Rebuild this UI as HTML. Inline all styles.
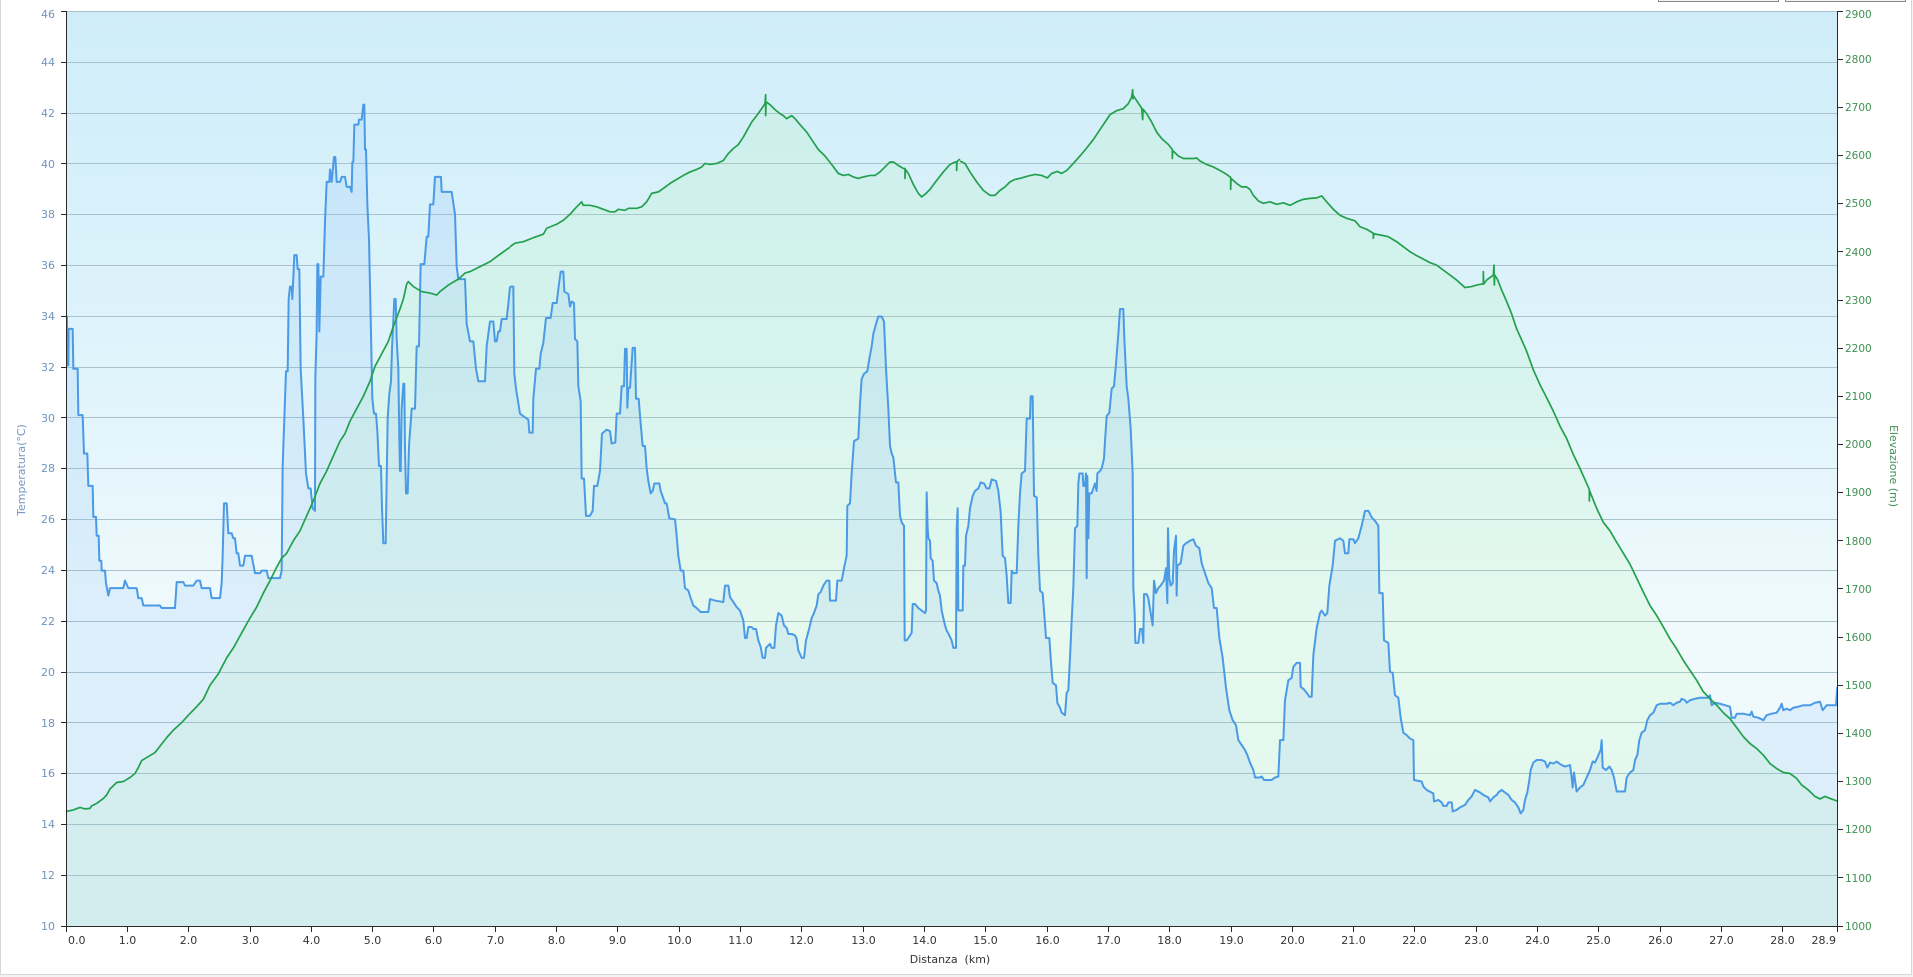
<!DOCTYPE html>
<html><head><meta charset="utf-8"><style>
html,body{margin:0;padding:0;background:#f3f3f3;}
svg{display:block;font-family:"DejaVu Sans","Liberation Sans",sans-serif;}
</style></head><body>
<svg width="1913" height="977" viewBox="0 0 1913 977" xmlns="http://www.w3.org/2000/svg">
<defs>
<linearGradient id="bg" x1="0" y1="0" x2="0" y2="1">
<stop offset="0" stop-color="#cfedf9"/>
<stop offset="0.4" stop-color="#e0f4fb"/>
<stop offset="0.68" stop-color="#f0fafd"/>
<stop offset="1" stop-color="#eef9fc"/>
</linearGradient>
<clipPath id="pc"><rect x="66.5" y="11" width="1771" height="915"/></clipPath>
</defs>
<rect x="0.5" y="-2" width="1911" height="976.5" fill="#ffffff" stroke="#d6d6d6"/>
<rect x="1658.5" y="-12" width="120" height="13.5" fill="#f4f4f4" stroke="#8a8a8a"/>
<rect x="1785.5" y="-12" width="120" height="13.5" fill="#f4f4f4" stroke="#8a8a8a"/>
<rect x="66.5" y="11" width="1771" height="915" fill="url(#bg)"/>
<g stroke="#aac2cc" stroke-width="1" shape-rendering="crispEdges">
<line x1="66" x2="1838" y1="11.5" y2="11.5"/>
<line x1="66" x2="1838" y1="62.5" y2="62.5"/>
<line x1="66" x2="1838" y1="113.5" y2="113.5"/>
<line x1="66" x2="1838" y1="163.5" y2="163.5"/>
<line x1="66" x2="1838" y1="214.5" y2="214.5"/>
<line x1="66" x2="1838" y1="265.5" y2="265.5"/>
<line x1="66" x2="1838" y1="316.5" y2="316.5"/>
<line x1="66" x2="1838" y1="367.5" y2="367.5"/>
<line x1="66" x2="1838" y1="417.5" y2="417.5"/>
<line x1="66" x2="1838" y1="468.5" y2="468.5"/>
<line x1="66" x2="1838" y1="519.5" y2="519.5"/>
<line x1="66" x2="1838" y1="570.5" y2="570.5"/>
<line x1="66" x2="1838" y1="621.5" y2="621.5"/>
<line x1="66" x2="1838" y1="672.5" y2="672.5"/>
<line x1="66" x2="1838" y1="722.5" y2="722.5"/>
<line x1="66" x2="1838" y1="773.5" y2="773.5"/>
<line x1="66" x2="1838" y1="824.5" y2="824.5"/>
<line x1="66" x2="1838" y1="875.5" y2="875.5"/>
</g>
<g clip-path="url(#pc)">
<!-- green fills -->
<g transform="translate(60 59.8) scale(0.333333 0.4984)" fill="rgba(158,249,142,0.12)" stroke="none">
<polygon points="20,1738 20,1508 40,1505 60,1500 75,1503 90,1502 95,1497 110,1492 130,1482 140,1475 150,1463 170,1450 190,1448 210,1440 225,1432 235,1420 245,1406 265,1398 285,1390 300,1377 320,1360 340,1345 365,1330 385,1315 410,1298 430,1283 450,1255 475,1232 500,1200 520,1180 545,1150 570,1120 590,1098 610,1070 630,1045 650,1018 665,1000 680,990 700,965 720,945 740,915 760,885 780,850 800,825 820,795 840,765 855,750 870,725 890,700 910,675 930,645 945,615 965,590 985,565 1000,535 1020,500 1030,480 1040,450 1045,445 1060,455 1085,465 1110,468 1130,472 1140,465 1165,452 1195,440 1215,428 1230,425 1260,415 1290,405 1310,395 1335,383 1350,376 1350,1738"/>
</g>
<g transform="translate(510 59.8) scale(0.333333 0.4984)" fill="rgba(158,249,142,0.12)" stroke="none">
<polygon points="0,1738 0,375 15,368 40,365 70,357 100,350 110,338 140,330 160,322 180,310 200,295 215,285 220,292 240,292 260,295 280,300 300,305 315,305 325,300 345,302 355,298 380,298 395,295 410,285 425,268 445,265 460,258 480,248 500,240 520,232 540,225 560,220 575,215 585,208 600,210 620,208 640,202 655,188 670,178 685,170 700,155 715,137 725,125 740,112 755,98 765,88 770,85 780,90 795,100 810,108 820,112 830,118 845,112 855,118 870,130 890,145 910,165 925,180 945,193 965,210 985,228 1000,232 1015,230 1030,235 1045,238 1060,235 1080,232 1095,232 1110,225 1125,215 1140,205 1150,205 1165,212 1180,218 1195,228 1210,250 1225,268 1235,275 1245,270 1260,260 1280,242 1300,225 1320,210 1335,205 1348,200 1350,201 1350,1738"/>
</g>
<g transform="translate(960 59.8) scale(0.333333 0.4984)" fill="rgba(158,249,142,0.12)" stroke="none">
<polygon points="0,1738 0,203 15,208 30,225 50,245 70,262 90,272 105,272 120,262 135,255 150,245 165,240 185,237 205,233 225,230 245,232 262,237 275,228 292,224 305,228 320,222 340,208 360,193 380,177 400,160 420,140 435,125 450,110 470,102 490,98 505,88 515,75 520,72 530,82 545,97 560,108 575,125 590,145 605,158 625,170 655,193 670,198 700,198 710,197 720,203 740,210 760,215 780,222 800,230 830,248 845,255 860,255 870,260 880,272 895,283 910,288 930,285 950,290 970,287 990,292 1010,285 1030,280 1050,278 1070,277 1085,273 1100,285 1120,300 1140,312 1160,318 1185,323 1200,335 1220,340 1240,348 1265,352 1285,355 1310,365 1330,375 1350,385 1350,1738"/>
</g>
<g transform="translate(1410 59.8) scale(0.333333 0.4984)" fill="rgba(158,249,142,0.12)" stroke="none">
<polygon points="0,1738 0,385 20,393 40,400 60,407 80,412 100,422 120,432 140,442 165,457 185,455 200,452 215,450 230,442 250,432 262,440 275,462 290,485 305,510 320,540 335,562 350,585 370,622 390,652 410,678 430,705 450,735 470,760 490,792 510,820 530,850 545,875 560,900 580,928 600,945 620,968 640,990 660,1012 680,1040 700,1068 720,1095 740,1115 760,1138 780,1162 800,1182 820,1205 840,1225 860,1245 880,1268 900,1282 920,1295 940,1310 960,1322 980,1340 1000,1358 1020,1372 1040,1382 1060,1395 1080,1412 1100,1422 1120,1430 1140,1432 1160,1442 1175,1455 1195,1465 1215,1478 1230,1483 1245,1478 1260,1482 1285,1488 1285,1738"/>
</g>
<!-- blue fills -->
<g transform="translate(60 59.8) scale(0.333333 0.4984)" fill="rgba(133,184,242,0.17)" stroke="none">
<polygon points="20,1738 20,515 21,515 22,613 25,613 26,540 38,540 40,620 53,620 55,713 68,713 72,790 82,790 85,855 98,855 100,917 108,917 110,955 116,955 118,1005 124,1005 125,1025 135,1025 138,1050 145,1075 150,1060 190,1060 195,1045 205,1060 230,1060 235,1080 245,1080 250,1095 300,1095 305,1100 345,1100 350,1048 370,1048 375,1055 400,1055 410,1045 420,1045 425,1060 450,1060 455,1080 480,1080 485,1050 488,995 492,890 500,890 505,950 515,950 520,960 525,960 530,990 535,990 540,1015 550,1015 555,995 575,995 585,1030 600,1030 605,1025 620,1025 625,1040 660,1040 665,1025 668,815 678,625 683,625 686,480 690,455 695,455 697,480 703,392 710,392 713,420 718,420 722,620 730,720 738,830 745,860 752,860 758,900 765,905 766,640 770,545 772,410 775,410 778,545 782,435 790,435 795,325 800,245 808,245 810,220 815,245 822,195 826,195 830,245 840,245 845,235 855,235 860,255 870,255 875,265 877,205 880,205 883,130 895,130 897,120 905,120 910,90 913,90 915,180 918,180 922,290 927,360 933,550 937,680 942,710 948,710 952,745 957,815 963,815 966,900 970,970 977,970 980,845 983,720 988,670 993,645 996,580 1003,480 1007,480 1010,560 1015,620 1018,760 1020,825 1022,825 1025,700 1030,650 1033,650 1035,780 1038,870 1043,870 1047,775 1055,700 1065,700 1070,575 1077,575 1082,410 1093,410 1100,355 1105,355 1110,290 1120,290 1125,235 1143,235 1145,265 1175,265 1185,310 1190,415 1195,440 1215,440 1220,530 1230,565 1240,565 1248,620 1255,645 1275,645 1280,575 1290,525 1300,525 1305,565 1310,565 1315,545 1320,545 1325,520 1340,520 1345,490 1350,455 1350,1738"/>
</g>
<g transform="translate(510 59.8) scale(0.333333 0.4984)" fill="rgba(133,184,242,0.17)" stroke="none">
<polygon points="0,1738 0,455 10,455 13,630 18,660 30,710 40,715 55,722 58,748 68,748 70,680 78,620 88,620 92,590 100,568 108,518 122,518 128,488 140,488 145,460 152,425 160,425 163,465 175,470 180,495 185,485 192,488 195,560 202,565 205,655 212,685 215,840 222,840 228,915 240,915 248,905 252,855 262,855 270,825 276,750 285,745 290,742 300,745 305,770 316,768 320,710 330,710 335,655 342,655 345,580 350,580 352,698 355,658 360,658 368,578 375,578 378,680 386,680 392,730 398,775 405,775 410,820 415,845 422,870 428,865 433,850 448,850 452,865 460,880 465,890 470,890 478,920 495,922 500,955 505,995 512,1025 520,1025 525,1060 535,1065 542,1080 550,1095 560,1100 572,1108 595,1108 600,1082 615,1085 640,1088 645,1055 655,1055 660,1078 670,1088 680,1098 690,1105 700,1125 705,1160 710,1160 715,1138 725,1138 730,1142 738,1142 745,1165 752,1178 758,1200 765,1200 768,1180 775,1175 780,1172 785,1180 793,1180 798,1135 805,1110 815,1115 822,1135 830,1140 835,1152 845,1152 855,1155 860,1162 865,1185 875,1200 882,1200 888,1165 892,1155 898,1140 905,1120 912,1110 920,1095 925,1072 932,1068 940,1055 950,1045 958,1045 960,1085 978,1085 982,1045 995,1045 1002,1020 1010,995 1012,895 1020,890 1025,830 1032,765 1045,760 1050,690 1055,640 1062,630 1072,625 1078,600 1085,575 1090,550 1098,530 1105,515 1115,515 1122,525 1128,620 1135,700 1140,775 1145,790 1150,798 1158,848 1165,848 1170,915 1175,928 1182,935 1184,1165 1190,1165 1200,1155 1205,1150 1208,1092 1215,1092 1225,1100 1235,1105 1245,1110 1248,1105 1250,868 1253,940 1255,960 1260,965 1262,1000 1268,1005 1272,1045 1280,1050 1285,1065 1290,1075 1295,1105 1300,1120 1305,1135 1310,1145 1318,1155 1325,1165 1330,1180 1338,1180 1340,940 1343,900 1345,1105 1350,1105 1350,1738"/>
</g>
<g transform="translate(960 59.8) scale(0.333333 0.4984)" fill="rgba(133,184,242,0.17)" stroke="none">
<polygon points="0,1738 0,1105 8,1105 10,1015 15,1015 18,955 25,935 30,900 38,875 45,865 55,860 62,848 72,850 80,860 88,860 95,842 108,845 115,865 122,908 128,995 135,1000 140,1035 145,1090 152,1090 155,1025 160,1030 170,1030 175,935 180,870 185,830 195,825 200,720 210,720 212,675 218,675 222,875 230,878 235,995 240,1065 248,1070 252,1105 258,1160 268,1160 272,1200 278,1250 288,1255 292,1290 300,1300 305,1310 315,1315 320,1270 325,1265 330,1200 335,1125 340,1060 345,940 352,935 355,850 358,830 368,830 370,855 375,855 378,830 380,1040 382,835 385,960 388,870 395,870 400,860 405,850 410,865 412,830 420,825 425,820 432,800 435,765 440,715 448,708 455,660 462,655 468,610 475,550 480,500 490,500 493,560 500,655 505,680 512,740 518,830 520,1060 524,1110 526,1170 535,1170 540,1142 546,1142 550,1170 552,1072 560,1072 565,1080 572,1110 578,1135 582,1045 588,1070 595,1060 602,1055 612,1045 618,1020 622,1090 624,940 628,1040 632,1055 638,1050 642,985 648,955 650,1075 652,1015 662,1010 670,975 678,970 690,965 700,962 708,975 718,980 725,1010 735,1030 745,1050 755,1060 762,1100 770,1100 778,1160 788,1200 798,1260 808,1305 818,1325 828,1335 835,1365 845,1375 855,1385 862,1395 870,1410 880,1425 885,1440 900,1440 905,1438 912,1445 920,1445 935,1445 945,1440 955,1438 960,1365 970,1365 975,1285 985,1245 995,1240 1000,1218 1010,1210 1020,1210 1022,1258 1030,1262 1040,1270 1048,1278 1055,1278 1060,1195 1070,1140 1080,1110 1085,1105 1095,1115 1102,1110 1108,1055 1118,1015 1125,965 1140,960 1150,965 1155,990 1165,990 1168,962 1180,962 1185,970 1195,960 1205,935 1215,905 1225,905 1235,918 1245,925 1255,935 1258,1070 1268,1070 1272,1165 1285,1170 1290,1228 1298,1230 1305,1275 1315,1280 1322,1320 1330,1350 1340,1355 1350,1362 1350,1738"/>
</g>
<g transform="translate(1410 59.8) scale(0.333333 0.4984)" fill="rgba(133,184,242,0.17)" stroke="none">
<polygon points="0,1738 0,1365 10,1365 12,1445 35,1448 40,1458 50,1465 70,1472 72,1488 85,1485 95,1490 100,1497 110,1497 115,1490 125,1490 128,1508 140,1505 150,1500 165,1495 175,1485 185,1478 195,1465 210,1470 220,1475 235,1480 240,1488 250,1480 260,1475 265,1470 275,1465 285,1470 295,1475 305,1485 315,1490 325,1500 332,1512 340,1505 345,1485 352,1470 358,1445 362,1425 370,1410 380,1405 395,1405 405,1408 412,1420 420,1410 430,1412 440,1408 448,1412 455,1415 465,1418 480,1415 485,1440 488,1460 492,1430 500,1468 510,1460 520,1455 530,1440 540,1425 548,1408 555,1410 562,1400 572,1385 575,1365 578,1420 588,1425 598,1418 605,1425 612,1440 620,1468 645,1468 650,1440 660,1430 670,1425 675,1405 682,1395 688,1365 695,1350 705,1345 712,1325 720,1315 730,1310 740,1295 750,1292 770,1292 780,1290 790,1295 800,1290 810,1288 815,1282 825,1285 830,1290 840,1285 855,1282 870,1280 895,1280 900,1275 905,1295 915,1290 930,1292 945,1295 960,1298 965,1320 975,1320 980,1312 1000,1312 1020,1315 1025,1308 1030,1318 1045,1320 1060,1325 1070,1315 1085,1312 1100,1310 1110,1300 1115,1292 1120,1305 1130,1302 1140,1305 1150,1300 1165,1298 1180,1295 1200,1295 1215,1290 1230,1288 1238,1305 1250,1295 1265,1295 1278,1295 1282,1258 1285,1258 1285,1738"/>
</g>
<!-- blue lines -->
<g fill="none" stroke="#4a9ae6" stroke-width="2" stroke-linejoin="round">
<g transform="translate(60 59.8) scale(0.333333 0.4984)">
<polyline vector-effect="non-scaling-stroke" points="20,515 21,515 22,613 25,613 26,540 38,540 40,620 53,620 55,713 68,713 72,790 82,790 85,855 98,855 100,917 108,917 110,955 116,955 118,1005 124,1005 125,1025 135,1025 138,1050 145,1075 150,1060 190,1060 195,1045 205,1060 230,1060 235,1080 245,1080 250,1095 300,1095 305,1100 345,1100 350,1048 370,1048 375,1055 400,1055 410,1045 420,1045 425,1060 450,1060 455,1080 480,1080 485,1050 488,995 492,890 500,890 505,950 515,950 520,960 525,960 530,990 535,990 540,1015 550,1015 555,995 575,995 585,1030 600,1030 605,1025 620,1025 625,1040 660,1040 665,1025 668,815 678,625 683,625 686,480 690,455 695,455 697,480 703,392 710,392 713,420 718,420 722,620 730,720 738,830 745,860 752,860 758,900 765,905 766,640 770,545 772,410 775,410 778,545 782,435 790,435 795,325 800,245 808,245 810,220 815,245 822,195 826,195 830,245 840,245 845,235 855,235 860,255 870,255 875,265 877,205 880,205 883,130 895,130 897,120 905,120 910,90 913,90 915,180 918,180 922,290 927,360 933,550 937,680 942,710 948,710 952,745 957,815 963,815 966,900 970,970 977,970 980,845 983,720 988,670 993,645 996,580 1003,480 1007,480 1010,560 1015,620 1018,760 1020,825 1022,825 1025,700 1030,650 1033,650 1035,780 1038,870 1043,870 1047,775 1055,700 1065,700 1070,575 1077,575 1082,410 1093,410 1100,355 1105,355 1110,290 1120,290 1125,235 1143,235 1145,265 1175,265 1185,310 1190,415 1195,440 1215,440 1220,530 1230,565 1240,565 1248,620 1255,645 1275,645 1280,575 1290,525 1300,525 1305,565 1310,565 1315,545 1320,545 1325,520 1340,520 1345,490 1350,455"/>
</g>
<g transform="translate(510 59.8) scale(0.333333 0.4984)">
<polyline vector-effect="non-scaling-stroke" points="0,455 10,455 13,630 18,660 30,710 40,715 55,722 58,748 68,748 70,680 78,620 88,620 92,590 100,568 108,518 122,518 128,488 140,488 145,460 152,425 160,425 163,465 175,470 180,495 185,485 192,488 195,560 202,565 205,655 212,685 215,840 222,840 228,915 240,915 248,905 252,855 262,855 270,825 276,750 285,745 290,742 300,745 305,770 316,768 320,710 330,710 335,655 342,655 345,580 350,580 352,698 355,658 360,658 368,578 375,578 378,680 386,680 392,730 398,775 405,775 410,820 415,845 422,870 428,865 433,850 448,850 452,865 460,880 465,890 470,890 478,920 495,922 500,955 505,995 512,1025 520,1025 525,1060 535,1065 542,1080 550,1095 560,1100 572,1108 595,1108 600,1082 615,1085 640,1088 645,1055 655,1055 660,1078 670,1088 680,1098 690,1105 700,1125 705,1160 710,1160 715,1138 725,1138 730,1142 738,1142 745,1165 752,1178 758,1200 765,1200 768,1180 775,1175 780,1172 785,1180 793,1180 798,1135 805,1110 815,1115 822,1135 830,1140 835,1152 845,1152 855,1155 860,1162 865,1185 875,1200 882,1200 888,1165 892,1155 898,1140 905,1120 912,1110 920,1095 925,1072 932,1068 940,1055 950,1045 958,1045 960,1085 978,1085 982,1045 995,1045 1002,1020 1010,995 1012,895 1020,890 1025,830 1032,765 1045,760 1050,690 1055,640 1062,630 1072,625 1078,600 1085,575 1090,550 1098,530 1105,515 1115,515 1122,525 1128,620 1135,700 1140,775 1145,790 1150,798 1158,848 1165,848 1170,915 1175,928 1182,935 1184,1165 1190,1165 1200,1155 1205,1150 1208,1092 1215,1092 1225,1100 1235,1105 1245,1110 1248,1105 1250,868 1253,940 1255,960 1260,965 1262,1000 1268,1005 1272,1045 1280,1050 1285,1065 1290,1075 1295,1105 1300,1120 1305,1135 1310,1145 1318,1155 1325,1165 1330,1180 1338,1180 1340,940 1343,900 1345,1105 1350,1105"/>
</g>
<g transform="translate(960 59.8) scale(0.333333 0.4984)">
<polyline vector-effect="non-scaling-stroke" points="0,1105 8,1105 10,1015 15,1015 18,955 25,935 30,900 38,875 45,865 55,860 62,848 72,850 80,860 88,860 95,842 108,845 115,865 122,908 128,995 135,1000 140,1035 145,1090 152,1090 155,1025 160,1030 170,1030 175,935 180,870 185,830 195,825 200,720 210,720 212,675 218,675 222,875 230,878 235,995 240,1065 248,1070 252,1105 258,1160 268,1160 272,1200 278,1250 288,1255 292,1290 300,1300 305,1310 315,1315 320,1270 325,1265 330,1200 335,1125 340,1060 345,940 352,935 355,850 358,830 368,830 370,855 375,855 378,830 380,1040 382,835 385,960 388,870 395,870 400,860 405,850 410,865 412,830 420,825 425,820 432,800 435,765 440,715 448,708 455,660 462,655 468,610 475,550 480,500 490,500 493,560 500,655 505,680 512,740 518,830 520,1060 524,1110 526,1170 535,1170 540,1142 546,1142 550,1170 552,1072 560,1072 565,1080 572,1110 578,1135 582,1045 588,1070 595,1060 602,1055 612,1045 618,1020 622,1090 624,940 628,1040 632,1055 638,1050 642,985 648,955 650,1075 652,1015 662,1010 670,975 678,970 690,965 700,962 708,975 718,980 725,1010 735,1030 745,1050 755,1060 762,1100 770,1100 778,1160 788,1200 798,1260 808,1305 818,1325 828,1335 835,1365 845,1375 855,1385 862,1395 870,1410 880,1425 885,1440 900,1440 905,1438 912,1445 920,1445 935,1445 945,1440 955,1438 960,1365 970,1365 975,1285 985,1245 995,1240 1000,1218 1010,1210 1020,1210 1022,1258 1030,1262 1040,1270 1048,1278 1055,1278 1060,1195 1070,1140 1080,1110 1085,1105 1095,1115 1102,1110 1108,1055 1118,1015 1125,965 1140,960 1150,965 1155,990 1165,990 1168,962 1180,962 1185,970 1195,960 1205,935 1215,905 1225,905 1235,918 1245,925 1255,935 1258,1070 1268,1070 1272,1165 1285,1170 1290,1228 1298,1230 1305,1275 1315,1280 1322,1320 1330,1350 1340,1355 1350,1362"/>
</g>
<g transform="translate(1410 59.8) scale(0.333333 0.4984)">
<polyline vector-effect="non-scaling-stroke" points="0,1362 10,1365 12,1445 35,1448 40,1458 50,1465 70,1472 72,1488 85,1485 95,1490 100,1497 110,1497 115,1490 125,1490 128,1508 140,1505 150,1500 165,1495 175,1485 185,1478 195,1465 210,1470 220,1475 235,1480 240,1488 250,1480 260,1475 265,1470 275,1465 285,1470 295,1475 305,1485 315,1490 325,1500 332,1512 340,1505 345,1485 352,1470 358,1445 362,1425 370,1410 380,1405 395,1405 405,1408 412,1420 420,1410 430,1412 440,1408 448,1412 455,1415 465,1418 480,1415 485,1440 488,1460 492,1430 500,1468 510,1460 520,1455 530,1440 540,1425 548,1408 555,1410 562,1400 572,1385 575,1365 578,1420 588,1425 598,1418 605,1425 612,1440 620,1468 645,1468 650,1440 660,1430 670,1425 675,1405 682,1395 688,1365 695,1350 705,1345 712,1325 720,1315 730,1310 740,1295 750,1292 770,1292 780,1290 790,1295 800,1290 810,1288 815,1282 825,1285 830,1290 840,1285 855,1282 870,1280 895,1280 900,1275 905,1295 915,1290 930,1292 945,1295 960,1298 965,1320 975,1320 980,1312 1000,1312 1020,1315 1025,1308 1030,1318 1045,1320 1060,1325 1070,1315 1085,1312 1100,1310 1110,1300 1115,1292 1120,1305 1130,1302 1140,1305 1150,1300 1165,1298 1180,1295 1200,1295 1215,1290 1230,1288 1238,1305 1250,1295 1265,1295 1278,1295 1282,1258"/>
</g>
</g>
<!-- green lines -->
<g fill="none" stroke="#22a04c" stroke-width="1.7" stroke-linejoin="round">
<g transform="translate(60 59.8) scale(0.333333 0.4984)">
<polyline vector-effect="non-scaling-stroke" points="20,1508 40,1505 60,1500 75,1503 90,1502 95,1497 110,1492 130,1482 140,1475 150,1463 170,1450 190,1448 210,1440 225,1432 235,1420 245,1406 265,1398 285,1390 300,1377 320,1360 340,1345 365,1330 385,1315 410,1298 430,1283 450,1255 475,1232 500,1200 520,1180 545,1150 570,1120 590,1098 610,1070 630,1045 650,1018 665,1000 680,990 700,965 720,945 740,915 760,885 780,850 800,825 820,795 840,765 855,750 870,725 890,700 910,675 930,645 945,615 965,590 985,565 1000,535 1020,500 1030,480 1040,450 1045,445 1060,455 1085,465 1110,468 1130,472 1140,465 1165,452 1195,440 1215,428 1230,425 1260,415 1290,405 1310,395 1335,383 1350,376"/>
</g>
<g transform="translate(510 59.8) scale(0.333333 0.4984)">
<polyline vector-effect="non-scaling-stroke" points="0,375 15,368 40,365 70,357 100,350 110,338 140,330 160,322 180,310 200,295 215,285 220,292 240,292 260,295 280,300 300,305 315,305 325,300 345,302 355,298 380,298 395,295 410,285 425,268 445,265 460,258 480,248 500,240 520,232 540,225 560,220 575,215 585,208 600,210 620,208 640,202 655,188 670,178 685,170 700,155 715,137 725,125 740,112 755,98 765,88 767,70 767,112 768,88 770,85 780,90 795,100 810,108 820,112 830,118 845,112 855,118 870,130 890,145 910,165 925,180 945,193 965,210 985,228 1000,232 1015,230 1030,235 1045,238 1060,235 1080,232 1095,232 1110,225 1125,215 1140,205 1150,205 1165,212 1180,218 1185,218 1185,238 1186,220 1195,228 1210,250 1225,268 1235,275 1245,270 1260,260 1280,242 1300,225 1320,210 1335,205 1340,205 1340,222 1341,204 1348,200 1350,201"/>
</g>
<g transform="translate(960 59.8) scale(0.333333 0.4984)">
<polyline vector-effect="non-scaling-stroke" points="0,203 15,208 30,225 50,245 70,262 90,272 105,272 120,262 135,255 150,245 165,240 185,237 205,233 225,230 245,232 262,237 275,228 292,224 305,228 320,222 340,208 360,193 380,177 400,160 420,140 435,125 450,110 470,102 490,98 505,88 515,75 518,60 519,78 520,72 530,82 545,97 548,120 549,99 560,108 575,125 590,145 605,158 625,170 637,180 637,198 638,182 655,193 670,198 700,198 710,197 720,203 740,210 760,215 780,222 800,230 812,236 812,260 813,238 830,248 845,255 860,255 870,260 880,272 895,283 910,288 930,285 950,290 970,287 990,292 1010,285 1030,280 1050,278 1070,277 1085,273 1100,285 1120,300 1140,312 1160,318 1185,323 1200,335 1220,340 1240,348 1240,358 1241,349 1265,352 1285,355 1310,365 1330,375 1350,385"/>
</g>
<g transform="translate(1410 59.8) scale(0.333333 0.4984)">
<polyline vector-effect="non-scaling-stroke" points="0,385 20,393 40,400 60,407 80,412 100,422 120,432 140,442 165,457 185,455 200,452 215,450 220,450 220,425 221,450 230,442 250,432 252,412 253,452 254,432 262,440 275,462 290,485 305,510 320,540 335,562 350,585 370,622 390,652 410,678 430,705 450,735 470,760 490,792 510,820 530,850 538,862 538,885 539,865 545,875 560,900 580,928 600,945 620,968 640,990 660,1012 680,1040 700,1068 720,1095 740,1115 760,1138 780,1162 800,1182 820,1205 840,1225 860,1245 880,1268 900,1282 920,1295 940,1310 960,1322 980,1340 1000,1358 1020,1372 1040,1382 1060,1395 1080,1412 1100,1422 1120,1430 1140,1432 1160,1442 1175,1455 1195,1465 1215,1478 1230,1483 1245,1478 1260,1482 1285,1488"/>
</g>
</g>
</g>
<!-- axes -->
<g stroke="#2a2a2a" stroke-width="1" shape-rendering="crispEdges" fill="none">
<line x1="66.5" y1="11" x2="66.5" y2="927"/>
<line x1="1837.5" y1="11" x2="1837.5" y2="927"/>
<line x1="66" y1="926.5" x2="1838" y2="926.5"/>
<path d="M61 11.5H66M61 62.5H66M61 113.5H66M61 163.5H66M61 214.5H66M61 265.5H66M61 316.5H66M61 367.5H66M61 417.5H66M61 468.5H66M61 519.5H66M61 570.5H66M61 621.5H66M61 672.5H66M61 722.5H66M61 773.5H66M61 824.5H66M61 875.5H66M61 926.5H66"/>
<path d="M1838 11.5H1843M1838 59.5H1843M1838 107.5H1843M1838 155.5H1843M1838 203.5H1843M1838 251.5H1843M1838 300.5H1843M1838 348.5H1843M1838 396.5H1843M1838 444.5H1843M1838 492.5H1843M1838 540.5H1843M1838 588.5H1843M1838 637.5H1843M1838 685.5H1843M1838 733.5H1843M1838 781.5H1843M1838 829.5H1843M1838 877.5H1843M1838 926.5H1843"/>
<path d="M66.5 927V932M127.5 927V932M188.5 927V932M250.5 927V932M311.5 927V932M372.5 927V932M433.5 927V932M495.5 927V932M556.5 927V932M617.5 927V932M679.5 927V932M740.5 927V932M801.5 927V932M863.5 927V932M924.5 927V932M985.5 927V932M1047.5 927V932M1108.5 927V932M1169.5 927V932M1231.5 927V932M1292.5 927V932M1353.5 927V932M1414.5 927V932M1476.5 927V932M1537.5 927V932M1598.5 927V932M1660.5 927V932M1721.5 927V932M1782.5 927V932M1837.5 927V932"/>
</g>
<!-- left labels -->
<g font-size="11" fill="#7094bd" text-anchor="end">
<text x="55" y="18">46</text>
<text x="55" y="66">44</text>
<text x="55" y="117">42</text>
<text x="55" y="168">40</text>
<text x="55" y="218">38</text>
<text x="55" y="269">36</text>
<text x="55" y="320">34</text>
<text x="55" y="371">32</text>
<text x="55" y="422">30</text>
<text x="55" y="472">28</text>
<text x="55" y="523">26</text>
<text x="55" y="574">24</text>
<text x="55" y="625">22</text>
<text x="55" y="676">20</text>
<text x="55" y="727">18</text>
<text x="55" y="777">16</text>
<text x="55" y="828">14</text>
<text x="55" y="879">12</text>
<text x="55" y="930">10</text>
</g>
<text transform="translate(25 470) rotate(-90)" font-size="11" fill="#7597c0" text-anchor="middle">Temperatura(°C)</text>
<!-- right labels -->
<g font-size="10.5" fill="#3f8f52" text-anchor="start">
<text x="1845" y="18">2900</text>
<text x="1845" y="63">2800</text>
<text x="1845" y="111">2700</text>
<text x="1845" y="159">2600</text>
<text x="1845" y="207">2500</text>
<text x="1845" y="256">2400</text>
<text x="1845" y="304">2300</text>
<text x="1845" y="352">2200</text>
<text x="1845" y="400">2100</text>
<text x="1845" y="448">2000</text>
<text x="1845" y="496">1900</text>
<text x="1845" y="545">1800</text>
<text x="1845" y="593">1700</text>
<text x="1845" y="641">1600</text>
<text x="1845" y="689">1500</text>
<text x="1845" y="737">1400</text>
<text x="1845" y="785">1300</text>
<text x="1845" y="833">1200</text>
<text x="1845" y="882">1100</text>
<text x="1845" y="930">1000</text>
</g>
<text transform="translate(1890 466) rotate(90)" font-size="11" fill="#3f8f52" text-anchor="middle">Elevazione (m)</text>
<!-- x labels -->
<g font-size="11" fill="#333" text-anchor="middle">
<text x="68" y="944" text-anchor="start">0.0</text>
<text x="127.5" y="944">1.0</text>
<text x="188.5" y="944">2.0</text>
<text x="250.5" y="944">3.0</text>
<text x="311.5" y="944">4.0</text>
<text x="372.5" y="944">5.0</text>
<text x="433.5" y="944">6.0</text>
<text x="495.5" y="944">7.0</text>
<text x="556.5" y="944">8.0</text>
<text x="617.5" y="944">9.0</text>
<text x="679.5" y="944">10.0</text>
<text x="740.5" y="944">11.0</text>
<text x="801.5" y="944">12.0</text>
<text x="863.5" y="944">13.0</text>
<text x="924.5" y="944">14.0</text>
<text x="985.5" y="944">15.0</text>
<text x="1047.5" y="944">16.0</text>
<text x="1108.5" y="944">17.0</text>
<text x="1169.5" y="944">18.0</text>
<text x="1231.5" y="944">19.0</text>
<text x="1292.5" y="944">20.0</text>
<text x="1353.5" y="944">21.0</text>
<text x="1414.5" y="944">22.0</text>
<text x="1476.5" y="944">23.0</text>
<text x="1537.5" y="944">24.0</text>
<text x="1598.5" y="944">25.0</text>
<text x="1660.5" y="944">26.0</text>
<text x="1721.5" y="944">27.0</text>
<text x="1782.5" y="944">28.0</text>
<text x="1836" y="944" text-anchor="end">28.9</text>
</g>
<text x="950" y="963" font-size="11" fill="#333" text-anchor="middle" xml:space="preserve">Distanza  (km)</text>
</svg>
</body></html>
